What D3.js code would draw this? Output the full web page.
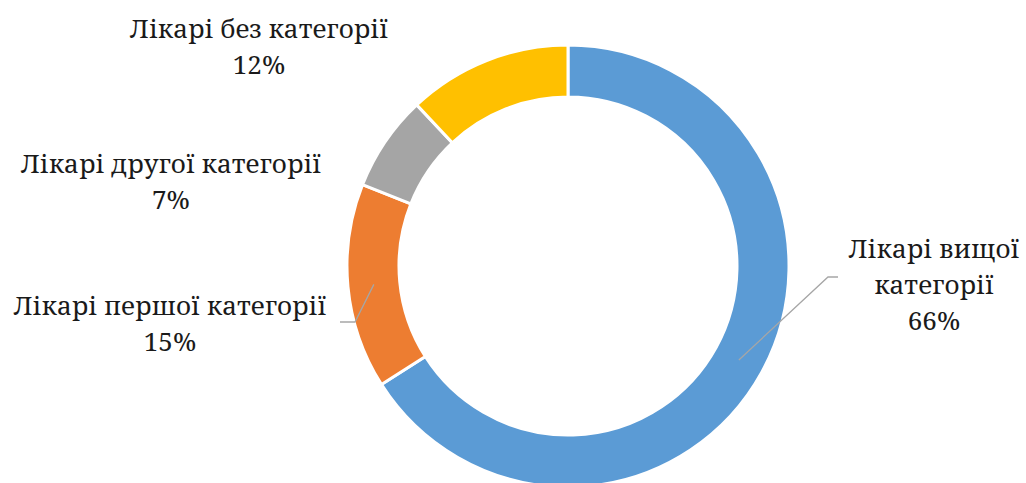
<!DOCTYPE html>
<html>
<head>
<meta charset="utf-8">
<script src="https://cdn.jsdelivr.net/npm/d3@7"></script>
<style>
  body { margin: 0; background: #fff; }
</style>
</head>
<body>
<div id="chart"></div>
<script>
// Data
const categories = ["Лікарі вищої категорії", "Лікарі першої категорії", "Лікарі другої категорії", "Лікарі без категорії"];
const values = [66, 15, 7, 12];
const colors = ["#5B9BD5", "#ED7D31", "#A5A5A5", "#FFC000"];
// label lines as drawn in the picture
const labelLines = [
  ["Лікарі вищої", "категорії", "66%"],
  ["Лікарі першої категорії", "15%"],
  ["Лікарі другої категорії", "7%"],
  ["Лікарі без категорії", "12%"]
];

const width = 1026, height = 483;
const cx = 568, cy = 266;
const outerR = 221, innerR = 169;

const svg = d3.select("#chart").append("svg")
  .attr("width", width)
  .attr("height", height);

const g = svg.append("g").attr("transform", `translate(${cx},${cy})`);

const pie = d3.pie().sort(null).value(d => d.value);
const arc = d3.arc().innerRadius(innerR).outerRadius(outerR);

const data = categories.map((c, i) => ({ name: c, value: values[i], color: colors[i], lines: labelLines[i] }));
const arcs = pie(data);

// Slices
g.selectAll("path.slice")
  .data(arcs)
  .enter().append("path")
  .attr("class", "slice")
  .attr("d", arc)
  .attr("fill", d => d.data.color)
  .attr("stroke", "white")
  .attr("stroke-width", 3);

// Label placement (x center, first baseline, leader end)
const labelPos = [
  { x: 934, y: 258, leader: { x: 828, y: 277, hx: 838 } },
  { x: 170, y: 315, leader: { x: 355, y: 322, hx: 340 } },
  { x: 171, y: 173, leader: null },
  { x: 259, y: 38, leader: null }
];
const lineH = 36;
const midR = (innerR + outerR) / 2;

arcs.forEach((d, i) => {
  const p = labelPos[i];
  const a = (d.startAngle + d.endAngle) / 2;
  if (p.leader) {
    const sx = cx + Math.sin(a) * midR;
    const sy = cy - Math.cos(a) * midR;
    svg.append("polyline")
      .attr("points", `${sx},${sy} ${p.leader.x},${p.leader.y} ${p.leader.hx},${p.leader.y}`)
      .attr("fill", "none")
      .attr("stroke", "#a6a6a6")
      .attr("stroke-width", 1.3);
  }
  const t = svg.append("text")
    .attr("text-anchor", "middle")
    .attr("font-family", "'Noto Serif', 'DejaVu Serif', serif")
    .attr("font-size", 26)
    .attr("fill", "#1a1a1a");
  d.data.lines.forEach((ln, j) => {
    t.append("tspan")
      .attr("x", p.x)
      .attr("y", p.y + j * lineH)
      .text(ln);
  });
});
</script>
</body>
</html>
